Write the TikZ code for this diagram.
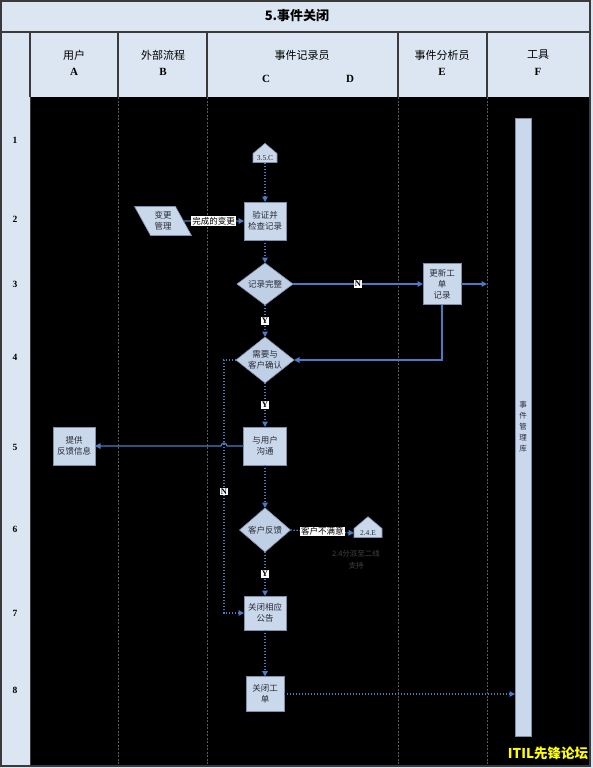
\documentclass[tikz,border=0pt]{standalone}
\usepackage{fontspec}
\setmainfont{Liberation Serif}
\newfontfamily\cjk{Noto Sans CJK SC}
\usetikzlibrary{shapes.geometric,shapes.symbols,arrows.meta}
\definecolor{hdr}{HTML}{DCE6F2}
\definecolor{gridc}{HTML}{3A3A3A}
\definecolor{boxfill}{HTML}{C9D8EB}
\definecolor{diafill}{HTML}{BFD0E6}
\definecolor{boxline}{HTML}{8090A8}
\definecolor{link}{HTML}{4A7BC4}
\definecolor{ntext}{HTML}{2A2A35}
\definecolor{divider}{HTML}{5A5A5A}
\definecolor{notegray}{HTML}{444444}
\definecolor{wmc}{HTML}{FFFF00}
\begin{document}
\begin{tikzpicture}[x=1pt,y=-1pt,
  every node/.style={inner sep=0pt,outer sep=0pt},
  titletxt/.style={font=\cjk\bfseries\fontsize{13}{15}\selectfont,text=black},
  hdrtxt/.style={font=\cjk\fontsize{11}{13}\selectfont,text=black},
  hdrletter/.style={font=\bfseries\fontsize{11}{13}\selectfont,text=black},
  rownum/.style={font=\bfseries\fontsize{9.5}{11}\selectfont,text=black},
  stepbox/.style={rectangle,draw=boxline,fill=boxfill,line width=0.6pt,
    font=\cjk\fontsize{8.5}{11}\selectfont,text=ntext,align=center},
  decision/.style={diamond,draw=boxline,fill=diafill,line width=0.6pt,
    font=\cjk\fontsize{8.5}{11}\selectfont,text=ntext,align=center},
  house/.style={signal,signal to=north,signal pointer angle=100,draw=boxline,
    fill=boxfill,line width=0.6pt,inner sep=2pt,
    font=\fontsize{7.5}{9}\selectfont,text=ntext},
  extproc/.style={trapezium,trapezium left angle=120,trapezium right angle=60,
    trapezium stretches=true,draw=boxline,fill=boxfill,line width=0.6pt,
    font=\cjk\fontsize{8.5}{11}\selectfont,text=ntext,align=center},
  solidarrow/.style={draw=link,line width=1.2pt,-{Triangle[length=5.5pt,width=5.5pt]}},
  dotarrow/.style={draw=link,line width=1.3pt,dash pattern=on 1.4pt off 1.6pt,
    -{Triangle[length=5.5pt,width=5.5pt]}},
  lbl/.style={fill=white,text=black,inner sep=1pt,font=\cjk\fontsize{8.5}{9}\selectfont},
  yn/.style={fill=white,text=black,inner sep=1pt,font=\bfseries\fontsize{8.5}{9}\selectfont},
]
\useasboundingbox (0,0) rectangle (593,768);
\fill[hdr] (0,0) rectangle (593,768);
\fill[black] (30,97) rectangle (590,766);
\foreach \x in {118,207,398,487}
  \draw[divider,line width=0.6pt,dash pattern=on 2pt off 1.5pt] (\x,97) -- (\x,766);
\draw[gridc,line width=1.2pt] (1,1) rectangle (590,766);
\draw[gridc,line width=1.2pt] (1,32) -- (590,32);
\foreach \x in {30,118,207,398,487}
  \draw[gridc,line width=1.2pt] (\x,32) -- (\x,97);
\draw[gridc,line width=1pt] (30,97) -- (30,766);

% header
\node[titletxt] (title) at (297,16) {5.事件关闭};
\node[hdrtxt] (hA) at (74,55) {用户};
\node[hdrletter] (lA) at (74,72) {A};
\node[hdrtxt] (hB) at (163,55) {外部流程};
\node[hdrletter] (lB) at (163,72) {B};
\node[hdrtxt] (hC) at (302,55) {事件记录员};
\node[hdrletter] (lC) at (266,79) {C};
\node[hdrletter] (lD) at (350,79) {D};
\node[hdrtxt] (hE) at (442,55) {事件分析员};
\node[hdrletter] (lE) at (442,72) {E};
\node[hdrtxt] (hF) at (538,55) {工具};
\node[hdrletter] (lF) at (538,72) {F};

% row numbers
\node[rownum] (r1) at (15,140) {1};
\node[rownum] (r2) at (15,219) {2};
\node[rownum] (r3) at (15,284) {3};
\node[rownum] (r4) at (15,357) {4};
\node[rownum] (r5) at (15,447) {5};
\node[rownum] (r6) at (15,529) {6};
\node[rownum] (r7) at (15,613) {7};
\node[rownum] (r8) at (15,690) {8};

% tool bar
\node[stepbox,minimum width=16pt,minimum height=618pt,font=\cjk\fontsize{7.5}{11}\selectfont]
  (tool) at (523,427) {事\\件\\管\\理\\库};

% nodes
\node[house,minimum width=24pt] (p35) at (265,158) {3.5.C};
\node[stepbox,minimum width=42pt,minimum height=38pt] (verify) at (265,221) {验证并\\检查记录};
\node[extproc,minimum width=57pt,minimum height=29pt] (change) at (163,221) {变更\\管理};
\node[decision,minimum width=56pt,minimum height=36pt] (complete) at (265,284) {记录完整};
\node[stepbox,minimum width=38pt,minimum height=41pt] (update) at (442,284) {更新工\\单\\记录};
\coordinate (toolin) at (487,284);
\node[decision,minimum width=58pt,minimum height=46pt,shape aspect=1.26] (confirm) at (265,360) {需要与\\客户确认};
\coordinate (nturn) at (224,360);
\node[stepbox,minimum width=43pt,minimum height=38pt] (talk) at (265,446) {与用户\\沟通};
\node[stepbox,minimum width=42pt,minimum height=38pt] (feedback) at (74,446) {提供\\反馈信息};
\node[decision,minimum width=51pt,minimum height=44pt] (cfb) at (265,530) {客户反馈};
\node[house,minimum width=28pt] (p24) at (368,533) {2.4.E};
\node[font=\cjk\fontsize{7.5}{12}\selectfont,text=notegray,align=center] (note) at (356,560) {2.4分派至二线\\支持};
\node[stepbox,minimum width=42pt,minimum height=34pt] (announce) at (265,613) {关闭相应\\公告};
\node[stepbox,minimum width=38pt,minimum height=35pt] (closet) at (265,694) {关闭工\\单};

% connectors
\draw[dotarrow] (p35.south) -- (verify.north);
\draw[solidarrow] (change.east) -- node[lbl] (lbl1) {完成的变更} (verify.west);
\draw[dotarrow] (verify.south) -- (complete.north);
\draw[solidarrow] (complete.east) -- node[yn] (n1) {N} (update.west);
\draw[solidarrow] (update.east) -- (toolin);
\draw[solidarrow] (update.south) |- (confirm.east);
\draw[dotarrow] (complete.south) -- node[yn] (y1) {Y} (confirm.north);
\draw[dotarrow] (confirm.west) -- (nturn) |- node[yn,pos=0.26] (n2) {N} (announce.west);
\draw[dotarrow] (confirm.south) -- node[yn] (y2) {Y} (talk.north);
\draw[solidarrow] (talk.west) -- (talk.west -| 227,0) arc[start angle=0,end angle=-180,radius=3] -- (feedback.east);
\draw[dotarrow] (talk.south) -- (cfb.north);
\draw[dotarrow] (cfb.east) -- node[lbl] (lbl2) {客户不满意} (p24.west);
\draw[dotarrow] (cfb.south) -- node[yn] (y3) {Y} (announce.north);
\draw[dotarrow] (announce.south) -- (closet.north);
\draw[dotarrow] (closet.east) -- (closet.east -| tool.west);

% watermark
\node[font=\cjk\bfseries\fontsize{13.5}{15}\selectfont,text=wmc] (wmark) at (548,753) {ITIL先锋论坛};
\end{tikzpicture}
\end{document}
